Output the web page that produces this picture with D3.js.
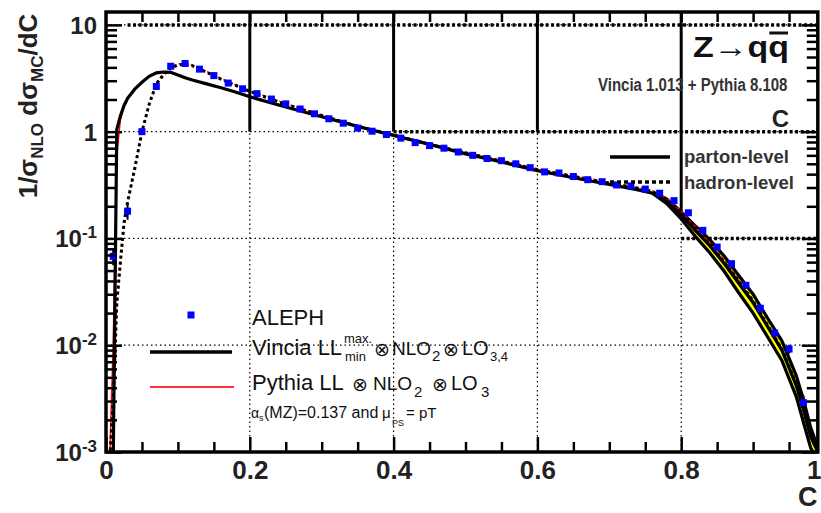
<!DOCTYPE html>
<html>
<head>
<meta charset="utf-8">
<script src="https://cdn.jsdelivr.net/npm/d3@7"></script>
<style>
  body { margin: 0; background: #fff; }
  svg { display: block; font-family: 'Liberation Sans', Arial, sans-serif; }
</style>
</head>
<body>
<svg width="821" height="513"></svg>
<script>
(function (d3) {
  'use strict';

  // ALEPH data, bin centres and values
  const aleC = [0.01, 0.03, 0.05, 0.07, 0.09, 0.11, 0.13, 0.15, 0.17, 0.19,
                0.21, 0.23, 0.25, 0.27, 0.29, 0.31, 0.33, 0.35, 0.37, 0.39,
                0.41, 0.43, 0.45, 0.47, 0.49, 0.51, 0.53, 0.55, 0.57, 0.59,
                0.61, 0.63, 0.65, 0.67, 0.69, 0.71, 0.73, 0.75, 0.77, 0.79,
                0.81, 0.83, 0.85, 0.87, 0.89, 0.91, 0.93, 0.95, 0.97];
  const aleY = [0.068, 0.18, 1.0, 2.65, 4.1, 4.35, 3.85, 3.35, 2.85, 2.52,
                2.27, 2.02, 1.82, 1.63, 1.47, 1.32, 1.20, 1.08, 1.01, 0.94,
                0.87, 0.79, 0.74, 0.70, 0.645, 0.60, 0.56, 0.535, 0.50, 0.46,
                0.42, 0.41, 0.38, 0.355, 0.34, 0.317, 0.31, 0.29, 0.265, 0.226,
                0.174, 0.119, 0.083, 0.058, 0.0364, 0.0222, 0.013, 0.0092, 0.0029];
  const aleErr = [0.012, 0.03, 0.05, 0.08, 0.1, 0.1, 0.08, 0.06, 0.05, 0.04,
                  0.04, 0.03, 0.03, 0.025, 0.02, 0.02, 0.02, 0.015, 0.015, 0.015,
                  0.013, 0.012, 0.011, 0.01, 0.01, 0.009, 0.009, 0.008, 0.008, 0.007,
                  0.007, 0.007, 0.006, 0.006, 0.006, 0.006, 0.006, 0.006, 0.006, 0.006,
                  0.005, 0.004, 0.003, 0.0025, 0.002, 0.0015, 0.001, 0.0009, 0.0005];

  // curves
  const cGrid = [0.005, 0.01, 0.015, 0.02, 0.025, 0.03, 0.04, 0.05, 0.06, 0.07,
                 0.08, 0.09, 0.10, 0.11, 0.12, 0.14, 0.16, 0.18, 0.20, 0.25,
                 0.30, 0.35, 0.40, 0.45, 0.50, 0.55, 0.60, 0.65, 0.70, 0.74,
                 0.76, 0.78, 0.80, 0.82, 0.84, 0.86, 0.88, 0.90, 0.92, 0.94,
                 0.96, 0.97, 0.98, 0.99];
  const vinciaParton = [0.0008, 0.0008, 1.05, 1.4, 1.75, 2.05, 2.5, 2.9, 3.3, 3.55,
                        3.62, 3.6, 3.4, 3.2, 3.05, 2.8, 2.58, 2.35, 2.12, 1.7,
                        1.38, 1.12, 0.92, 0.76, 0.62, 0.52, 0.43, 0.37, 0.32, 0.285,
                        0.265, 0.222, 0.165, 0.118, 0.085, 0.058, 0.038, 0.025, 0.015, 0.009,
                        0.0042, 0.0025, 0.0014, 0.001];
  const vinciaHadron = [0.0008, 0.003, 0.025, 0.06, 0.14, 0.22, 0.45, 1.0, 1.8, 2.8,
                        3.4, 3.95, 4.2, 4.3, 4.15, 3.6, 3.1, 2.72, 2.38, 1.8,
                        1.42, 1.12, 0.93, 0.76, 0.635, 0.53, 0.44, 0.38, 0.33, 0.295,
                        0.275, 0.23, 0.17, 0.122, 0.088, 0.06, 0.04, 0.026, 0.0155, 0.0092,
                        0.0043, 0.0026, 0.0015, 0.001];
  const pythiaParton = [0.0008, 0.01, 0.6, 1.3, 1.7, 2.0, 2.5, 2.9, 3.25, 3.5,
                        3.6, 3.55, 3.38, 3.2, 3.05, 2.8, 2.57, 2.35, 2.13, 1.71,
                        1.39, 1.13, 0.93, 0.77, 0.63, 0.53, 0.44, 0.375, 0.325, 0.29,
                        0.27, 0.228, 0.17, 0.122, 0.088, 0.06, 0.039, 0.0255, 0.0152, 0.0088,
                        0.0041, 0.0025, 0.0014, 0.001];
  const pythiaHadron = [0.0008, 0.002, 0.02, 0.055, 0.12, 0.21, 0.48, 0.98, 1.85, 2.85,
                        3.55, 4.05, 4.3, 4.35, 4.2, 3.65, 3.15, 2.75, 2.42, 1.84,
                        1.43, 1.13, 0.935, 0.77, 0.64, 0.54, 0.45, 0.39, 0.335, 0.30,
                        0.28, 0.24, 0.18, 0.128, 0.09, 0.062, 0.041, 0.026, 0.0155, 0.0092,
                        0.0043, 0.0026, 0.0015, 0.001];

  // Vincia LL min/max envelope in the tail
  const bandC = [0.76, 0.78, 0.80, 0.82, 0.84, 0.86, 0.88, 0.90, 0.92, 0.94, 0.96, 0.97, 0.98, 0.99];
  const bandMin = [0.265, 0.212, 0.152, 0.104, 0.073, 0.049, 0.031, 0.020, 0.012, 0.0072, 0.0033, 0.0019, 0.0011, 0.0008];
  const bandMax = [0.27, 0.234, 0.178, 0.13, 0.097, 0.068, 0.045, 0.030, 0.018, 0.011, 0.0052, 0.0031, 0.0017, 0.0011];

  // ticks
  const xMajor = [0, 0.2, 0.4, 0.6, 0.8, 1];
  const xMajorLabels = ['0', '0.2', '0.4', '0.6', '0.8', '1'];
  const xMinor = [0.05, 0.1, 0.15, 0.25, 0.3, 0.35, 0.45, 0.5, 0.55, 0.65, 0.7, 0.75, 0.85, 0.9, 0.95];
  const yDecades = [10, 1, 0.1, 0.01, 0.001];
  const yDecadeExp = ['', '', '-1', '-2', '-3'];

  const svg = d3.select('svg');

  const xScale = d3.scaleLinear().domain([0, 1]).range([106, 825]);
  const yScale = d3.scaleLog().domain([0.001, 13.2]).range([452, 12]);
  const left = 106, top = 12, bottom = 452, right = xScale(0.99);

  svg.append('clipPath').attr('id', 'frame')
    .append('rect').attr('x', left).attr('y', top)
    .attr('width', right - left).attr('height', bottom - top);

  // grid
  const grid = svg.append('g');
  [0.2, 0.4, 0.6, 0.8].forEach(v => {
    grid.append('line')
      .attr('x1', xScale(v)).attr('x2', xScale(v))
      .attr('y1', top).attr('y2', bottom)
      .attr('stroke', '#000').attr('stroke-width', 1.2)
      .attr('stroke-dasharray', '1.5,3');
  });
  [0.2, 0.4, 0.6].forEach(v => {
    grid.append('line')
      .attr('x1', xScale(v)).attr('x2', xScale(v))
      .attr('y1', top).attr('y2', yScale(1))
      .attr('stroke', '#000').attr('stroke-width', 3);
  });
  grid.append('line')
    .attr('x1', xScale(0.8)).attr('x2', xScale(0.8))
    .attr('y1', top).attr('y2', yScale(0.17))
    .attr('stroke', '#000').attr('stroke-width', 3);
  [10, 1, 0.1, 0.01].forEach(v => {
    grid.append('line')
      .attr('x1', left).attr('x2', right)
      .attr('y1', yScale(v)).attr('y2', yScale(v))
      .attr('stroke', '#000').attr('stroke-width', 1.2)
      .attr('stroke-dasharray', '1.5,3');
  });
  [[10, 0.03], [1, 0.4], [0.1, 0.8]].forEach(([v, from]) => {
    grid.append('line')
      .attr('x1', xScale(from)).attr('x2', right)
      .attr('y1', yScale(v)).attr('y2', yScale(v))
      .attr('stroke', '#000').attr('stroke-width', 3.5)
      .attr('stroke-dasharray', '3,2.5');
  });

  // data area
  const plot = svg.append('g').attr('clip-path', 'url(#frame)');

  const band = bandC.map((c, i) => ({ c, lo: bandMin[i], hi: bandMax[i] }));
  plot.append('path').datum(band)
    .attr('fill', '#ffff00')
    .attr('d', d3.area().x(d => xScale(d.c)).y0(d => yScale(d.lo)).y1(d => yScale(d.hi)));
  const edge = key => d3.line().x(d => xScale(d.c)).y(d => yScale(d[key]));
  ['lo', 'hi'].forEach(k => {
    plot.append('path').datum(band)
      .attr('fill', 'none').attr('stroke', '#000').attr('stroke-width', 3.2)
      .attr('d', edge(k));
  });

  const curve = vals => d3.line()
    .x((d, i) => xScale(cGrid[i]))
    .y(d => yScale(d))(vals);

  plot.append('path').attr('d', curve(pythiaParton))
    .attr('fill', 'none').attr('stroke', '#ff0000').attr('stroke-width', 1.5);
  plot.append('path').attr('d', curve(pythiaHadron))
    .attr('fill', 'none').attr('stroke', '#ff0000').attr('stroke-width', 1.5)
    .attr('stroke-dasharray', '3,3');
  plot.append('path').attr('d', curve(vinciaParton))
    .attr('fill', 'none').attr('stroke', '#000').attr('stroke-width', 3.2);
  plot.append('path').attr('d', curve(vinciaHadron))
    .attr('fill', 'none').attr('stroke', '#000').attr('stroke-width', 3)
    .attr('stroke-dasharray', '3,3');

  // ALEPH points
  const ale = aleC.map((c, i) => ({ c, v: aleY[i], e: aleErr[i] }));
  plot.selectAll('line.err').data(ale).enter().append('line')
    .attr('class', 'err')
    .attr('x1', d => xScale(d.c)).attr('x2', d => xScale(d.c))
    .attr('y1', d => yScale(d.v + d.e)).attr('y2', d => yScale(Math.max(d.v - d.e, 0.0005)))
    .attr('stroke', '#000').attr('stroke-width', 2);
  plot.selectAll('rect.pt').data(ale).enter().append('rect')
    .attr('class', 'pt')
    .attr('x', d => xScale(d.c) - 3.5).attr('y', d => yScale(d.v) - 3.5)
    .attr('width', 7).attr('height', 7)
    .attr('fill', '#0000ff');

  // axes (ticks inward)
  const tickStyle = g => {
    g.select('.domain').remove();
    g.selectAll('.tick line').attr('stroke', '#000').attr('stroke-width', 2.5);
  };
  svg.append('g').attr('transform', `translate(0,${bottom})`)
    .call(d3.axisBottom(xScale).tickValues(xMinor).tickSize(-10).tickFormat(''))
    .call(tickStyle);
  const xAxisG = svg.append('g').attr('transform', `translate(0,${bottom})`)
    .call(d3.axisBottom(xScale).tickValues(xMajor).tickSize(-15).tickPadding(9)
      .tickFormat((d, i) => xMajorLabels[i]))
    .call(tickStyle)
    .call(g => g.selectAll('.tick text')
      .attr('font-family', "'Liberation Sans', Arial, sans-serif")
      .attr('font-size', 26).attr('font-weight', 'bold').attr('fill', '#222'));
  // last label sits at the image edge: keep it inside
  xAxisG.selectAll('.tick').filter(d => d === 1).select('text')
    .attr('text-anchor', 'end').attr('x', 821 - xScale(1));
  svg.append('g').attr('transform', `translate(0,${top})`)
    .call(d3.axisTop(xScale).tickValues(xMinor.concat(xMajor.slice(1, 5))).tickSize(-10).tickFormat(''))
    .call(tickStyle);

  const yMinor = yScale.ticks().filter(v => yDecades.indexOf(v) < 0);
  svg.append('g').attr('transform', `translate(${left},0)`)
    .call(d3.axisLeft(yScale).tickValues(yMinor).tickSize(-11).tickFormat(''))
    .call(tickStyle);
  svg.append('g').attr('transform', `translate(${left},0)`)
    .call(d3.axisLeft(yScale).tickValues(yDecades).tickSize(-16).tickFormat(''))
    .call(tickStyle);
  svg.append('g').attr('transform', `translate(${right},0)`)
    .call(d3.axisRight(yScale).tickValues(yMinor).tickSize(-11).tickFormat(''))
    .call(tickStyle);
  svg.append('g').attr('transform', `translate(${right},0)`)
    .call(d3.axisRight(yScale).tickValues(yDecades).tickSize(-16).tickFormat(''))
    .call(tickStyle);

  // y decade labels
  yDecades.forEach((v, i) => {
    const t = svg.append('text')
      .attr('x', 97).attr('y', yScale(v) + 9)
      .attr('text-anchor', 'end')
      .attr('font-size', 24).attr('font-weight', 'bold').attr('fill', '#222');
    t.append('tspan').text(v === 1 ? '1' : '10');
    if (yDecadeExp[i]) {
      t.append('tspan').attr('font-size', 17).attr('dy', -9).text(yDecadeExp[i]);
    }
  });

  // frame
  svg.append('rect')
    .attr('x', left).attr('y', top)
    .attr('width', right - left).attr('height', bottom - top)
    .attr('fill', 'none').attr('stroke', '#000').attr('stroke-width', 3.5);

  // axis titles
  const yt = svg.append('text')
    .attr('transform', 'translate(37,106) rotate(-90)')
    .attr('text-anchor', 'middle')
    .attr('font-size', 26).attr('font-weight', 'bold').attr('fill', '#222');
  yt.append('tspan').text('1/σ');
  yt.append('tspan').attr('font-size', 17).attr('dy', 6).text('NLO');
  yt.append('tspan').attr('dy', -6).text(' dσ');
  yt.append('tspan').attr('font-size', 17).attr('dy', 6).text('MC');
  yt.append('tspan').attr('dy', -6).text('/dC');

  svg.append('text')
    .attr('x', 798).attr('y', 506)
    .attr('font-size', 27).attr('font-weight', 'bold').attr('fill', '#222')
    .text('C');

  // text pieces (sub/superscripts) placed at their own x
  const rich = (y, parts) => {
    const g = svg.append('g').attr('fill', '#111');
    parts.forEach(p => {
      const t = g.append('text')
        .attr('x', p.x).attr('y', y + (p.dy || 0))
        .attr('font-size', p.size)
        .text(p.t);
      if (p.font) t.attr('font-family', p.font);
    });
    return g;
  };
  const otimes = "'DejaVu Sans', 'Noto Sans', sans-serif";

  // bottom-left legend
  svg.append('rect').attr('x', 191 - 3.5).attr('y', 315 - 3.5)
    .attr('width', 7).attr('height', 7).attr('fill', '#0000ff');
  svg.append('line').attr('x1', 150).attr('x2', 232).attr('y1', 352).attr('y2', 352)
    .attr('stroke', '#000').attr('stroke-width', 3.5);
  svg.append('line').attr('x1', 150).attr('x2', 234).attr('y1', 387).attr('y2', 387)
    .attr('stroke', '#ff3333').attr('stroke-width', 1.8);

  rich(325, [{ t: 'ALEPH', x: 252, size: 22 }]);
  rich(355, [
    { t: 'Vincia LL', x: 252, size: 22 },
    { t: 'max.', x: 344, size: 13, dy: -12 },
    { t: 'min', x: 345, size: 13, dy: 6 },
    { t: '⊗', x: 374, size: 19, dy: 1, font: otimes },
    { t: 'NLO', x: 392, size: 19 },
    { t: '2', x: 432, size: 15, dy: 6 },
    { t: '⊗', x: 443, size: 19, dy: 1, font: otimes },
    { t: 'LO', x: 462, size: 20 },
    { t: '3,4', x: 490, size: 13, dy: 6 }
  ]);
  rich(390, [
    { t: 'Pythia LL', x: 252, size: 22 },
    { t: '⊗', x: 352, size: 19, dy: 1, font: otimes },
    { t: 'NLO', x: 373, size: 19 },
    { t: '2', x: 414, size: 15, dy: 7 },
    { t: '⊗', x: 432, size: 19, dy: 1, font: otimes },
    { t: 'LO', x: 451, size: 20 },
    { t: '3', x: 481, size: 15, dy: 7 }
  ]);
  rich(418, [
    { t: 'α', x: 251, size: 14 },
    { t: 's', x: 259, size: 9, dy: 3 },
    { t: '(MZ)=0.137 and', x: 264, size: 16 },
    { t: 'μ', x: 382, size: 15 },
    { t: 'PS', x: 392, size: 9, dy: 8 },
    { t: '= pT', x: 406, size: 15 }
  ]);

  // top-right labels
  const zt = svg.append('text')
    .attr('x', 693).attr('y', 57)
    .attr('font-size', 30).attr('font-weight', 'bold').attr('fill', '#111')
    .attr('textLength', 96).attr('lengthAdjust', 'spacingAndGlyphs')
    .text('Z→qq');
  const qb = zt.node().getExtentOfChar(3);
  svg.append('line')
    .attr('x1', qb.x + 1).attr('x2', qb.x + qb.width - 1)
    .attr('y1', 57 - 24).attr('y2', 57 - 24)
    .attr('stroke', '#111').attr('stroke-width', 3);

  // narrow, tall lettering as in the original
  svg.append('text')
    .attr('transform', 'translate(598,91) scale(0.79,1)')
    .attr('font-size', 19).attr('font-weight', 'bold').attr('fill', '#333')
    .text('Vincia 1.013 + Pythia 8.108');
  svg.append('text')
    .attr('x', 789).attr('y', 127).attr('text-anchor', 'end')
    .attr('font-size', 24).attr('font-weight', 'bold').attr('fill', '#222')
    .text('C');

  svg.append('line').attr('x1', 610).attr('x2', 670).attr('y1', 157).attr('y2', 157)
    .attr('stroke', '#000').attr('stroke-width', 3.5);
  svg.append('line').attr('x1', 610).attr('x2', 670).attr('y1', 182).attr('y2', 182)
    .attr('stroke', '#000').attr('stroke-width', 3.5).attr('stroke-dasharray', '4,3');
  svg.append('text').attr('x', 684).attr('y', 163)
    .attr('font-size', 18.5).attr('font-weight', 'bold').attr('fill', '#333')
    .text('parton-level');
  svg.append('text').attr('x', 684).attr('y', 189)
    .attr('font-size', 18.5).attr('font-weight', 'bold').attr('fill', '#333')
    .text('hadron-level');

}(d3));
</script>
</body>
</html>
